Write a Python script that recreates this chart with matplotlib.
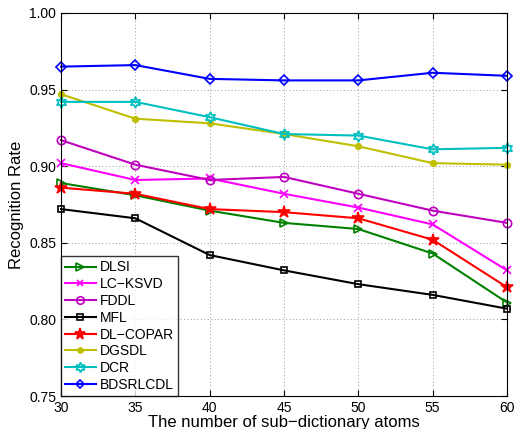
import matplotlib
matplotlib.use("Agg")
import matplotlib.pyplot as plt

plt.rcParams['font.family'] = ['Liberation Sans', 'DejaVu Sans']

atoms = [30, 35, 40, 45, 50, 55, 60]
names = ["DLSI", "LC\u2212KSVD", "FDDL", "MFL", "DL\u2212COPAR", "DGSDL", "DCR", "BDSRLCDL"]
dlsi = [0.889, 0.881, 0.871, 0.863, 0.859, 0.843, 0.811]
lcksvd = [0.902, 0.891, 0.892, 0.882, 0.873, 0.862, 0.832]
fddl = [0.917, 0.901, 0.891, 0.893, 0.882, 0.871, 0.863]
mfl = [0.872, 0.866, 0.842, 0.832, 0.823, 0.816, 0.807]
dlcopar = [0.886, 0.882, 0.872, 0.870, 0.866, 0.852, 0.821]
dgsdl = [0.947, 0.931, 0.928, 0.921, 0.913, 0.902, 0.901]
dcr = [0.942, 0.942, 0.932, 0.921, 0.920, 0.911, 0.912]
bdsrlcdl = [0.965, 0.966, 0.957, 0.956, 0.956, 0.961, 0.959]
series = [dlsi, lcksvd, fddl, mfl, dlcopar, dgsdl, dcr, bdsrlcdl]

colors = ["#008000", "#ff00ff", "#bf00bf", "#000000", "#ff0000", "#bfbf00", "#00bfbf", "#0000ff"]
markers = [">", "x", "o", "s", "*", ".", (6, 1, 0), "D"]
sizes = [6, 5.5, 6, 5, 9, 8, 8, 5]
fills = ["none", "full", "none", "none", "full", "full", "none", "none"]

fig = plt.figure(figsize=(5.14, 4.29), dpi=100)
ax = fig.add_axes([0.1187, 0.0769, 0.8677, 0.8928])

for vals, name, c, m, s, f in zip(series, names, colors, markers, sizes, fills):
    ax.plot(atoms, vals, color=c, marker=m, markersize=s, fillstyle=f,
            markeredgewidth=1.2, linewidth=1.5, label=name, clip_on=False)

ax.set_xlim(30, 60)
ax.set_ylim(0.75, 1.00)
ax.set_xticks(atoms)
ax.set_yticks([0.75, 0.80, 0.85, 0.90, 0.95, 1.00])
ax.set_yticklabels(["0.75", "0.80", "0.85", "0.90", "0.95", "1.00"])
ax.grid(True, linestyle=(0, (1, 2.5)), color="#999999", linewidth=0.7)
ax.tick_params(direction="in", top=True, right=True, labelsize=10, length=4)
ax.set_xlabel("The number of sub\u2212dictionary atoms", fontsize=12, labelpad=0)
ax.set_ylabel("Recognition Rate", fontsize=12)

leg = ax.legend(loc="lower left", fontsize=10, frameon=True, fancybox=False,
                edgecolor="black", borderaxespad=0, handlelength=2.2,
                handletextpad=0.3, labelspacing=0.2, borderpad=0.3,
                markerscale=0.9)
leg.get_frame().set_linewidth(1.0)

fig.savefig("out.png", dpi=100)
